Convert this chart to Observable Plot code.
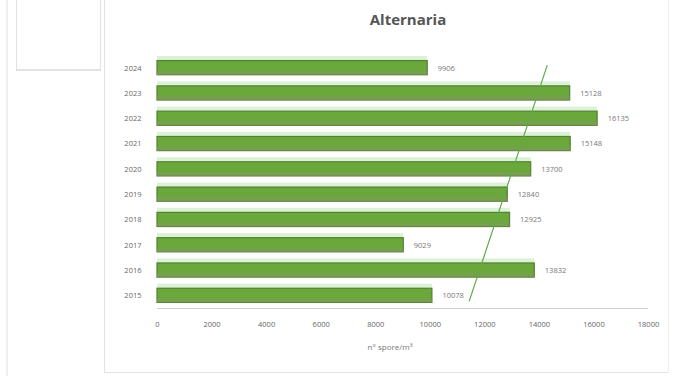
<!DOCTYPE html>
<html>
<head>
<meta charset="utf-8">
<script src="https://cdn.jsdelivr.net/npm/d3@7"></script>
<script src="https://cdn.jsdelivr.net/npm/@observablehq/plot@0.6"></script>
<style>
  body { margin: 0; background: #fff; font-family: "Open Sans", "Liberation Sans", sans-serif; }
  #wrap { position: relative; width: 673px; height: 376px; overflow: hidden; background: #fff; }
  .ln { position: absolute; background: #e2e2e2; }
  #title { position: absolute; left: 0; width: 673px; top: 9px; padding-left: 143px; box-sizing: border-box; text-align: center; font: bold 15px "Open Sans", sans-serif; color: #555; }
  #xtitle { position: absolute; top: 341px; left: 330px; width: 120px; text-align: center; font-size: 8px; color: #777; }
  #chart { position: absolute; left: 0; top: 0; }
</style>
</head>
<body>
<div id="wrap">
  <div class="ln" style="left:6px;top:0;width:2px;height:376px;background:#f0f0f0"></div>
  <div class="ln" style="left:16px;top:0;width:1px;height:70px"></div>
  <div class="ln" style="left:100px;top:0;width:1px;height:70px"></div>
  <div class="ln" style="left:16px;top:69px;width:85px;height:2px"></div>
  <div class="ln" style="left:104px;top:0;width:1px;height:373px"></div>
  <div class="ln" style="left:104px;top:372px;width:565px;height:1px"></div>
  <div class="ln" style="left:668px;top:0;width:1px;height:373px;background:#eee"></div>
  <div id="chart"></div>
  <div id="title">Alternaria</div>
  <div id="xtitle">n° spore/m³</div>
</div>
<script>
// categories listed bottom to top
const years = ["2015", "2016", "2017", "2018", "2019", "2020", "2021", "2022", "2023", "2024"];
const counts = [10078, 13832, 9029, 12925, 12840, 13700, 15148, 16135, 15128, 9906];
const xTicks = [0, 2000, 4000, 6000, 8000, 10000, 12000, 14000, 16000, 18000];

const data = years.map((y, i) => ({ year: y, idx: i + 1, value: counts[i] }));

// linear trendline (as in a spreadsheet) over category index
const mx = d3.mean(data, d => d.idx), my = d3.mean(data, d => d.value);
const slope = d3.sum(data, d => (d.idx - mx) * (d.value - my)) / d3.sum(data, d => (d.idx - mx) ** 2);
const icpt = my - slope * mx;
const trend = [0.8, 10.1].map(t => ({ t, v: icpt + slope * t }));

const chart = Plot.plot({
  width: 673,
  height: 376,
  marginLeft: 157,
  marginRight: 25,
  marginTop: 55,
  marginBottom: 68,
  style: { fontFamily: "Open Sans, sans-serif", background: "transparent" },
  x: { domain: [0, 18000], label: null },
  y: { domain: [0.5, 10.5], label: null },
  marks: [
    Plot.rectX(data, { x1: 0, x2: "value", y1: d => d.idx + 0.28, y2: d => d.idx + 0.46, fill: "#dcf2d6" }),
    Plot.rectX(data, { x1: 0, x2: "value", y1: d => d.idx - 0.28, y2: d => d.idx + 0.28, fill: "#6aa83c", stroke: "#557f33", strokeWidth: 1.2 }),
    Plot.rectX(data, { x1: 0, x2: "value", y1: d => d.idx - 0.28, y2: d => d.idx - 0.12, fill: "#7f9a5c", fillOpacity: 0.6 }),
    Plot.ruleY([0.5], { stroke: "#cfcfcf" }),
    Plot.line(trend, { x: "v", y: "t", stroke: "#62a84a", strokeWidth: 1.2 }),
    Plot.text(data, { x: "value", y: "idx", text: d => String(d.value), dx: 10, textAnchor: "start", fontSize: 7.5, fill: "#777" }),
    Plot.axisX({ ticks: xTicks, tickSize: 0, tickPadding: 13, fontSize: 7.5, color: "#666", tickFormat: d => String(d) }),
    Plot.axisY({ ticks: data.map(d => d.idx), tickSize: 0, tickPadding: 16, fontSize: 7.5, color: "#666", tickFormat: i => years[i - 1] })
  ]
});
document.getElementById("chart").appendChild(chart);
</script>
</body>
</html>
